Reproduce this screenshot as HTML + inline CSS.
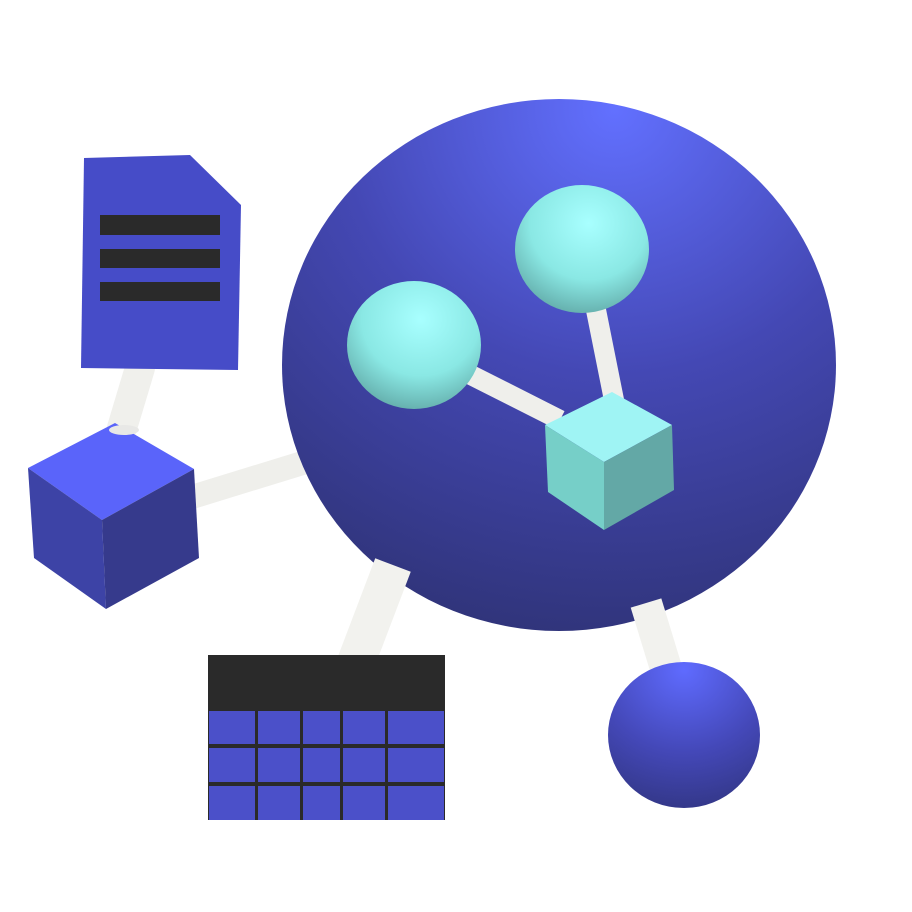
<!DOCTYPE html>
<html><head><style>html,body{margin:0;padding:0;background:#fff;}svg{display:block}</style></head>
<body>
<svg width="912" height="912" viewBox="0 0 912 912" xmlns="http://www.w3.org/2000/svg">
<defs>
<radialGradient id="big" cx="0.6" cy="0.02" r="1.0">
<stop offset="0" stop-color="#6270ff"/><stop offset="0.5" stop-color="#4448b4"/><stop offset="1" stop-color="#30347a"/>
</radialGradient>
<radialGradient id="sm" cx="0.5" cy="0.05" r="0.95">
<stop offset="0" stop-color="#5f6bff"/><stop offset="0.6" stop-color="#4448b8"/><stop offset="1" stop-color="#34388a"/>
</radialGradient>
<radialGradient id="cy" cx="0.55" cy="0.3" r="0.8">
<stop offset="0" stop-color="#a8ffff"/><stop offset="0.55" stop-color="#8ae8e4"/><stop offset="1" stop-color="#5a9e9c"/>
</radialGradient>
</defs>
<line x1="140" y1="368" x2="122" y2="428" stroke="#f0f0ec" stroke-width="30" stroke-linecap="round"/>
<line x1="192" y1="497" x2="322" y2="457" stroke="#efefeb" stroke-width="24" stroke-linecap="round"/>
<ellipse cx="559" cy="365" rx="277" ry="266" fill="url(#big)"/>
<line x1="393" y1="565" x2="355" y2="665" stroke="#f2f2ee" stroke-width="38"/>
<line x1="646" y1="603" x2="668" y2="675" stroke="#f2f2ee" stroke-width="32"/>
<ellipse cx="684" cy="735" rx="76" ry="73" fill="url(#sm)"/>
<line x1="465" y1="372" x2="560" y2="420" stroke="#efefeb" stroke-width="20"/>
<line x1="594" y1="300" x2="614" y2="400" stroke="#efefeb" stroke-width="20" stroke-linecap="round"/>
<ellipse cx="414" cy="345" rx="67" ry="64" fill="url(#cy)"/>
<ellipse cx="582" cy="249" rx="67" ry="64" fill="url(#cy)"/>
<polygon points="545,425 612,392 672,425 604,462" fill="#9ff4f4"/>
<polygon points="545,425 604,462 604,530 548,492" fill="#76cfc8"/>
<polygon points="604,462 672,425 674,490 604,530" fill="#63a8a6"/>
<polygon points="28,468 115,423 194,469 102,520" fill="#5a64fa"/>
<polygon points="28,468 102,520 106,609 34,558" fill="#3d43a6"/>
<polygon points="102,520 194,469 199,558 106,609" fill="#363a8c"/>
<ellipse cx="124" cy="430" rx="15" ry="5" fill="#e8e8e6"/>
<polygon points="84,158 190,155 241,205 238,370 81,368" fill="#464cc8"/>
<rect x="100" y="215" width="120" height="20" fill="#2a2a2a"/>
<rect x="100" y="249" width="120" height="19" fill="#2a2a2a"/>
<rect x="100" y="282" width="120" height="19" fill="#2a2a2a"/>
<rect x="208" y="655" width="237" height="165" fill="#2a2a2a"/>
<g fill="#4b50c9">
<rect x="209" y="711" width="46" height="33"/><rect x="258" y="711" width="42" height="33"/><rect x="303" y="711" width="37" height="33"/><rect x="343" y="711" width="42" height="33"/><rect x="388" y="711" width="56" height="33"/>
<rect x="209" y="748" width="46" height="34"/><rect x="258" y="748" width="42" height="34"/><rect x="303" y="748" width="37" height="34"/><rect x="343" y="748" width="42" height="34"/><rect x="388" y="748" width="56" height="34"/>
<rect x="209" y="786" width="46" height="34"/><rect x="258" y="786" width="42" height="34"/><rect x="303" y="786" width="37" height="34"/><rect x="343" y="786" width="42" height="34"/><rect x="388" y="786" width="56" height="34"/>
</g>
</svg>
</body></html>
